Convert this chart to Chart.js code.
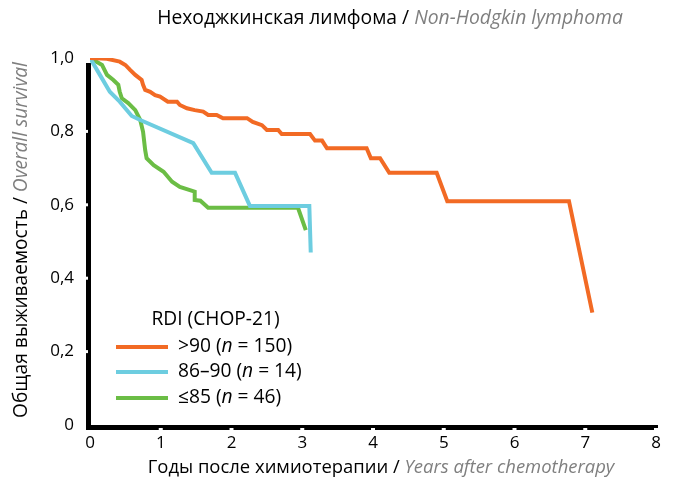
<!DOCTYPE html>
<html>
<head>
<meta charset="utf-8">
<script src="https://cdn.jsdelivr.net/npm/chart.js@4.4.0/dist/chart.umd.min.js"></script>
<style>
html,body{margin:0;padding:0;background:#fff;}
#c{display:block;}
</style>
</head>
<body>
<canvas id="c" width="676" height="485"></canvas>
<script>
// ---- data ----
const xTickLabels = ['0','1','2','3','4','5','6','7','8'];
const yTickLabels = ['0','0,2','0,4','0,6','0,8','1,0'];

const seriesNames = ['>90', '86–90', '≤85'];
const seriesN = [150, 14, 46];

const orangeX = [0,0.24,0.42,0.50,0.57,0.64,0.73,0.75,0.78,0.85,0.92,0.99,1.10,1.23,1.27,1.37,1.48,1.60,1.67,1.79,1.88,2.22,2.30,2.43,2.50,2.66,2.71,3.11,3.18,3.28,3.35,3.91,3.97,4.10,4.23,4.90,5.05,6.77,7.10];
const orangeY = [1.0,0.998,0.990,0.981,0.967,0.954,0.940,0.927,0.913,0.908,0.899,0.895,0.881,0.881,0.872,0.863,0.858,0.854,0.845,0.845,0.836,0.836,0.826,0.817,0.804,0.804,0.793,0.793,0.775,0.775,0.754,0.754,0.727,0.727,0.687,0.687,0.610,0.610,0.306];

const blueX = [0,0.14,0.28,0.42,0.59,0.71,1.46,1.72,2.05,2.26,3.10,3.12];
const blueY = [1.0,0.954,0.908,0.881,0.842,0.831,0.768,0.687,0.687,0.597,0.597,0.470];

const greenX = [0,0.17,0.24,0.33,0.40,0.42,0.45,0.54,0.64,0.71,0.75,0.78,0.80,0.90,1.04,1.16,1.27,1.48,1.48,1.56,1.67,2.94,3.05];
const greenY = [1.0,0.981,0.954,0.940,0.927,0.908,0.890,0.877,0.858,0.831,0.799,0.749,0.727,0.708,0.690,0.663,0.649,0.636,0.613,0.611,0.592,0.592,0.531];

// ---- styles ----
const COLORS = ['#F26A24', '#6DCDE0', '#6BBD45'];
const GRAY = '#7F7F7F';
const FONT = '"Open Sans", "Noto Sans", sans-serif';

function pts(xs, ys){ return xs.map((x,i)=>({x:x, y:ys[i]})); }

function measureParts(ctx, parts, size){
  let w = 0;
  parts.forEach(p=>{ ctx.font = (p.italic?'italic ':'') + size + 'px ' + FONT; w += ctx.measureText(p.text).width; });
  return w;
}
function fitSize(ctx, parts, target){
  return 100 * target / measureParts(ctx, parts, 100);
}
function drawParts(ctx, parts, x, y, size, align){
  const total = measureParts(ctx, parts, size);
  let cx = align === 'center' ? x - total/2 : x;
  ctx.textBaseline = 'middle';
  ctx.textAlign = 'left';
  parts.forEach(p=>{
    ctx.font = (p.italic?'italic ':'') + size + 'px ' + FONT;
    ctx.fillStyle = p.color || '#000';
    ctx.fillText(p.text, cx, y);
    cx += ctx.measureText(p.text).width;
  });
}

const decorPlugin = {
  id: 'decor',
  beforeDatasetsDraw(chart){
    const ctx = chart.ctx;
    const xs = chart.scales.x, ys = chart.scales.y;
    const L = xs.getPixelForValue(0), B = ys.getPixelForValue(0), T = ys.getPixelForValue(1), R = xs.getPixelForValue(8);
    ctx.save();
    ctx.fillStyle = '#000';
    ctx.fillRect(L - 4, T + 5, 5, B - T);       // left axis
    ctx.fillRect(L - 4, B, R - L + 6, 5);         // bottom axis
    ctx.fillStyle = '#fff';
    for (let v = 0.2; v < 1.01; v += 0.2){
      const py = ys.getPixelForValue(v);
      if (py > T + 5) ctx.fillRect(L - 4, py - 1.5, 2, 3);
    }
    for (let v = 1; v <= 8; v++){
      const px = xs.getPixelForValue(v);
      ctx.fillRect(px - 2, B + 3, 4, 2);
    }
    ctx.restore();
  },
  afterDraw(chart){
    const ctx = chart.ctx;
    ctx.save();
    // title
    const tParts = [{text:'Неходжкинская лимфома / '},{text:'Non-Hodgkin lymphoma', italic:true, color:GRAY}];
    drawParts(ctx, tParts, 390, 18, fitSize(ctx, tParts, 466), 'center');
    // x title
    const xParts = [{text:'Годы после химиотерапии / '},{text:'Years after chemotherapy', italic:true, color:GRAY}];
    drawParts(ctx, xParts, 381, 468, fitSize(ctx, xParts, 467), 'center');
    // y title
    const yParts = [{text:'Общая выживаемость / '},{text:'Overall survival', italic:true, color:GRAY}];
    ctx.save();
    ctx.translate(22, 240);
    ctx.rotate(-Math.PI/2);
    drawParts(ctx, yParts, 0, 0, fitSize(ctx, yParts, 356), 'center');
    ctx.restore();
    // legend
    const lt = [{text:'RDI (CHOP-21)'}];
    const ls = fitSize(ctx, lt, 125) + 0.5;
    drawParts(ctx, lt, 215.5, 320, ls, 'center');
    const rowY = [347, 372, 398];
    chart.data.datasets.forEach((ds, i)=>{
      ctx.strokeStyle = ds.borderColor;
      ctx.lineWidth = 4;
      ctx.beginPath();
      ctx.moveTo(116, rowY[i]); ctx.lineTo(168, rowY[i]);
      ctx.stroke();
      drawParts(ctx, [{text: seriesNames[i] + ' ('},{text:'n', italic:true},{text:' = ' + seriesN[i] + ')'}], 178, rowY[i], ls, 'left');
    });
    ctx.restore();
  }
};

new Chart(document.getElementById('c'), {
  type: 'line',
  data: {
    datasets: [
      {label: seriesNames[0], data: pts(orangeX, orangeY), borderColor: COLORS[0]},
      {label: seriesNames[1], data: pts(blueX, blueY), borderColor: COLORS[1]},
      {label: seriesNames[2], data: pts(greenX, greenY), borderColor: COLORS[2]}
    ].map(d=>Object.assign(d, {borderWidth:4, pointRadius:0, tension:0, fill:false})),
  },
  options: {
    responsive: false,
    animation: false,
    devicePixelRatio: 1,
    layout: {padding: {top: 58, right: 20, left: 0, bottom: 0}},
    plugins: {legend: {display:false}, tooltip: {enabled:false}, title: {display:false}},
    scales: {
      x: {
        type: 'linear', min: 0, max: 8,
        grid: {display: false, drawTicks: false}, border: {display: false},
        afterFit(s){ s.height = 60; },
        ticks: {stepSize: 1, padding: 8, color:'#000', font: {family: FONT, size: 17},
          callback: (v)=> xTickLabels[v] }
      },
      y: {
        type: 'linear', min: 0, max: 1,
        grid: {display: false, drawTicks: false}, border: {display: false},
        afterFit(s){ s.width = 90; },
        ticks: {stepSize: 0.2, padding: 16, color:'#000', font: {family: FONT, size: 17},
          callback: (v)=> yTickLabels[Math.round(v*5)] }
      }
    }
  },
  plugins: [decorPlugin]
});
</script>
</body>
</html>
